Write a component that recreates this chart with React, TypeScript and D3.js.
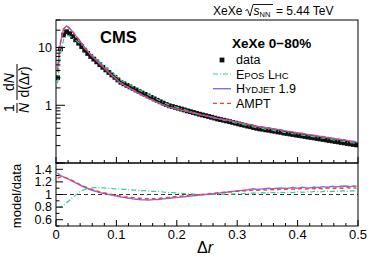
import React from "react";
import * as d3 from "d3";

// Δr bins of width 0.005 from 0 to 0.5
const binCenters = d3.range(100).map((i) => 0.0025 + 0.005 * i);

// 1/N dN/d(Δr), data
const dataValues = [
  3.0, 9.5, 16.5, 18.8, 17.4, 15.5, 13.6, 11.9, 10.4, 9.0,
  7.9, 7.0, 6.3, 5.65, 5.05, 4.55, 4.1, 3.7, 3.35, 3.05,
  2.75, 2.5, 2.35, 2.21, 2.08, 1.96, 1.84, 1.73, 1.63, 1.54,
  1.45, 1.37, 1.29, 1.22, 1.15, 1.09, 1.03, 0.98, 0.95, 0.92,
  0.89, 0.86, 0.83, 0.8, 0.775, 0.75, 0.725, 0.7, 0.68, 0.66,
  0.64, 0.62, 0.6, 0.58, 0.565, 0.55, 0.535, 0.52, 0.505, 0.49,
  0.475, 0.46, 0.45, 0.435, 0.425, 0.41, 0.4, 0.39, 0.385, 0.375,
  0.37, 0.36, 0.355, 0.345, 0.34, 0.33, 0.325, 0.318, 0.312, 0.305,
  0.3, 0.294, 0.288, 0.282, 0.277, 0.272, 0.266, 0.261, 0.256, 0.251,
  0.246, 0.241, 0.236, 0.232, 0.227, 0.223, 0.218, 0.214, 0.21, 0.206,
];

// model/data ratios
const eposRatio = [
  0.8, 0.8, 0.83, 0.87, 0.91, 0.95, 0.99, 1.03, 1.06, 1.08,
  1.095, 1.105, 1.11, 1.11, 1.11, 1.105, 1.1, 1.1, 1.095, 1.09,
  1.09, 1.085, 1.08, 1.08, 1.075, 1.07, 1.07, 1.065, 1.06, 1.06,
  1.055, 1.05, 1.05, 1.045, 1.045, 1.04, 1.035, 1.03, 1.03, 1.025,
  1.02, 1.02, 1.015, 1.01, 1.01, 1.005, 1.0, 1.0, 1.0, 1.0,
  0.995, 1.0, 1.0, 1.005, 1.0, 1.005, 1.01, 1.005, 1.01, 1.01,
  1.015, 1.01, 1.02, 1.015, 1.02, 1.025, 1.02, 1.025, 1.03, 1.02,
  1.03, 1.035, 1.025, 1.03, 1.035, 1.03, 1.04, 1.035, 1.03, 1.04,
  1.045, 1.035, 1.04, 1.045, 1.04, 1.05, 1.045, 1.04, 1.05, 1.055,
  1.045, 1.05, 1.055, 1.05, 1.055, 1.06, 1.05, 1.055, 1.06, 1.055,
];

const hydjetRatio = [
  1.34, 1.3, 1.28, 1.26, 1.235, 1.21, 1.185, 1.16, 1.135, 1.115,
  1.095, 1.075, 1.06, 1.045, 1.03, 1.02, 1.01, 1.0, 0.99, 0.98,
  0.97, 0.96, 0.955, 0.945, 0.94, 0.93, 0.925, 0.92, 0.915, 0.915,
  0.912, 0.915, 0.918, 0.92, 0.925, 0.93, 0.935, 0.94, 0.945, 0.95,
  0.955, 0.96, 0.965, 0.97, 0.975, 0.98, 0.985, 0.99, 0.995, 1.0,
  1.005, 1.01, 1.015, 1.02, 1.025, 1.03, 1.035, 1.045, 1.05, 1.055,
  1.06, 1.065, 1.07, 1.075, 1.085, 1.09, 1.08, 1.085, 1.09, 1.095,
  1.1, 1.09, 1.095, 1.1, 1.105, 1.1, 1.095, 1.105, 1.11, 1.1,
  1.105, 1.115, 1.11, 1.1, 1.11, 1.12, 1.11, 1.115, 1.125, 1.115,
  1.12, 1.13, 1.12, 1.125, 1.13, 1.135, 1.13, 1.125, 1.135, 1.13,
];

const amptRatio = [
  1.26, 1.28, 1.27, 1.26, 1.24, 1.22, 1.195, 1.17, 1.145, 1.125,
  1.105, 1.085, 1.07, 1.055, 1.04, 1.03, 1.02, 1.01, 1.0, 0.99,
  0.98, 0.975, 0.965, 0.96, 0.955, 0.95, 0.945, 0.94, 0.935, 0.935,
  0.932, 0.932, 0.935, 0.935, 0.94, 0.945, 0.95, 0.955, 0.96, 0.965,
  0.97, 0.975, 0.98, 0.985, 0.99, 0.99, 0.995, 1.0, 1.0, 1.005,
  1.01, 1.015, 1.02, 1.025, 1.03, 1.035, 1.04, 1.04, 1.045, 1.05,
  1.05, 1.055, 1.06, 1.06, 1.065, 1.07, 1.065, 1.07, 1.075, 1.07,
  1.075, 1.08, 1.075, 1.08, 1.085, 1.08, 1.085, 1.09, 1.085, 1.08,
  1.09, 1.095, 1.085, 1.09, 1.095, 1.09, 1.1, 1.095, 1.09, 1.1,
  1.105, 1.095, 1.1, 1.105, 1.1, 1.105, 1.11, 1.1, 1.105, 1.1,
];

const xTicks = [0, 0.1, 0.2, 0.3, 0.4, 0.5];
const xTickLabels = ["0", "0.1", "0.2", "0.3", "0.4", "0.5"];
const yTopTicks = [1, 10];
const yTopTickLabels = ["1", "10"];
const yRatioTicks = [0.6, 0.8, 1.0, 1.2, 1.4];
const yRatioTickLabels = ["0.6", "0.8", "1", "1.2", "1.4"];

const models = [
  { name: "epos", ratio: eposRatio, color: "#2fd19a", dash: "5,2,1,2", width: 1.2 },
  { name: "hydjet", ratio: hydjetRatio, color: "#7b6fe6", dash: "", width: 1.4 },
  { name: "ampt", ratio: amptRatio, color: "#ff3b30", dash: "4,3", width: 1.4 },
];

const W = 374;
const H = 257;
const left = 56;
const right = 358;
const topY = 20;
const midY = 163;
const botY = 226;

const font = "'Liberation Sans', Arial, Helvetica, sans-serif";

export default function App() {
  const x = d3.scaleLinear().domain([0, 0.5]).range([left, right]);
  const yTop = d3.scaleLog().domain([0.1, 30]).range([midY, topY]);
  const yRat = d3.scaleLinear().domain([0.5, 1.5]).range([botY, midY]);

  const topLine = d3
    .line<number>()
    .x((_, i) => x(binCenters[i]))
    .y((d) => yTop(d));
  const ratLine = d3
    .line<number>()
    .x((_, i) => x(binCenters[i]))
    .y((d) => yRat(d));

  const minorX = d3.range(0, 0.5001, 0.02);
  const minorLog: number[] = [];
  [0.1, 1, 10].forEach((dec) => {
    for (let k = 1; k <= 9; k++) {
      const v = k * dec;
      if (v >= 0.1 && v <= 30) minorLog.push(v);
    }
  });
  const minorRat = d3.range(0.5, 1.5001, 0.1);
  const ms = 4.8; // marker size

  return (
    <svg
      width={W}
      height={H}
      style={{ position: "absolute", left: 0, top: 0, background: "#fff" }}
      fontFamily={font}
    >
      <defs>
        <clipPath id="clipTop">
          <rect x={left} y={topY} width={right - left} height={midY - topY} />
        </clipPath>
        <clipPath id="clipRat">
          <rect x={left} y={midY} width={right - left} height={botY - midY} />
        </clipPath>
      </defs>

      {/* upper panel */}
      <g clipPath="url(#clipTop)">
        {dataValues.map((d, i) => (
          <rect
            key={i}
            x={x(binCenters[i]) - ms / 2}
            y={yTop(d) - ms / 2}
            width={ms}
            height={ms}
            fill="#111"
          />
        ))}
        {models.map((m) => (
          <path
            key={m.name}
            d={topLine(dataValues.map((d, i) => d * m.ratio[i])) || ""}
            fill="none"
            stroke={m.color}
            strokeWidth={m.width}
            strokeDasharray={m.dash}
          />
        ))}
      </g>

      {/* ratio panel */}
      <line
        x1={left}
        x2={right}
        y1={yRat(1)}
        y2={yRat(1)}
        stroke="#000"
        strokeWidth={0.8}
        strokeDasharray="4,3"
      />
      <g clipPath="url(#clipRat)">
        {models.map((m) => (
          <path
            key={m.name}
            d={ratLine(m.ratio) || ""}
            fill="none"
            stroke={m.color}
            strokeWidth={m.width}
            strokeDasharray={m.dash}
          />
        ))}
      </g>

      {/* frames */}
      <rect x={left} y={topY} width={right - left} height={midY - topY} fill="none" stroke="#000" strokeWidth={1} />
      <rect x={left} y={midY} width={right - left} height={botY - midY} fill="none" stroke="#000" strokeWidth={1} />

      {/* x ticks */}
      {minorX.map((v, i) => {
        const major = i % 5 === 0;
        const len = major ? 6 : 3;
        return (
          <g key={i} stroke="#000" strokeWidth={1}>
            <line x1={x(v)} x2={x(v)} y1={midY} y2={midY - len} />
            <line x1={x(v)} x2={x(v)} y1={botY} y2={botY - len} />
          </g>
        );
      })}
      {xTicks.map((v, i) => (
        <text key={i} x={x(v)} y={239} textAnchor="middle" fontSize={13}>
          {xTickLabels[i]}
        </text>
      ))}

      {/* y ticks upper */}
      {minorLog.map((v, i) => {
        const major = v === 1 || v === 10 || v === 0.1;
        return (
          <line key={i} x1={left} x2={left + (major ? 9 : 4.5)} y1={yTop(v)} y2={yTop(v)} stroke="#000" />
        );
      })}
      {yTopTicks.map((v, i) => (
        <text key={i} x={52} y={yTop(v) + 4.5} textAnchor="end" fontSize={12.5}>
          {yTopTickLabels[i]}
        </text>
      ))}

      {/* y ticks ratio */}
      {minorRat.map((v, i) => {
        const major = i % 2 === 1;
        return (
          <line key={i} x1={left} x2={left + (major ? 7 : 3.5)} y1={yRat(v)} y2={yRat(v)} stroke="#000" />
        );
      })}
      {yRatioTicks.map((v, i) => (
        <text key={i} x={52} y={yRat(v) + 4.3} textAnchor="end" fontSize={12.5}>
          {yRatioTickLabels[i]}
        </text>
      ))}

      {/* axis titles */}
      <text x={205} y={253} textAnchor="middle" fontSize={16}>
        Δ<tspan fontStyle="italic">r</tspan>
      </text>
      <text transform="translate(21,196) rotate(-90)" textAnchor="middle" fontSize={13}>
        model/data
      </text>
      <g transform="translate(17,88) rotate(-90)" fontSize={14}>
        <text x={-20} y={-3} textAnchor="middle">1</text>
        <line x1={-25} x2={-15} y1={0} y2={0} stroke="#000" strokeWidth={1} />
        <text x={-20} y={12} textAnchor="middle" fontStyle="italic">N</text>
        <text x={6} y={-3} textAnchor="middle">
          d<tspan fontStyle="italic">N</tspan>
        </text>
        <line x1={-12} x2={24} y1={0} y2={0} stroke="#000" strokeWidth={1} />
        <text x={6} y={12} textAnchor="middle">
          d(Δ<tspan fontStyle="italic">r</tspan>)
        </text>
      </g>

      {/* header */}
      <text x={213} y={15} fontSize={12}>XeXe</text>
      <path d="M245.5,10.5 L247.5,9.5 L250,16 L253,4.5 L273,4.5" fill="none" stroke="#000" strokeWidth={0.9} />
      <text x={253.5} y={15} fontSize={12} fontStyle="italic">s</text>
      <text x={259.5} y={17} fontSize={7.5}>NN</text>
      <text x={276} y={15} fontSize={12}>= 5.44 TeV</text>

      <text x={100} y={43} fontSize={16.5} fontWeight="bold">CMS</text>

      {/* legend */}
      <text x={232} y={48} fontSize={13.5} fontWeight="bold">XeXe 0−80%</text>
      <rect x={222 - ms / 2} y={60 - ms / 2} width={ms} height={ms} fill="#111" />
      <text x={236} y={64} fontSize={12.5}>data</text>
      {models.map((m, i) => (
        <line
          key={m.name}
          x1={213}
          x2={231}
          y1={74 + i * 14.7}
          y2={74 + i * 14.7}
          stroke={m.color}
          strokeWidth={m.width}
          strokeDasharray={m.dash}
        />
      ))}
      <text x={236} y={78.5} fontSize={12.5}>
        E<tspan fontSize={9.5}>POS</tspan> L<tspan fontSize={9.5}>HC</tspan>
      </text>
      <text x={236} y={93} fontSize={12.5}>
        H<tspan fontSize={9.5}>YDJET</tspan> 1.9
      </text>
      <text x={236} y={107.5} fontSize={12.5}>AMPT</text>
    </svg>
  );
}
